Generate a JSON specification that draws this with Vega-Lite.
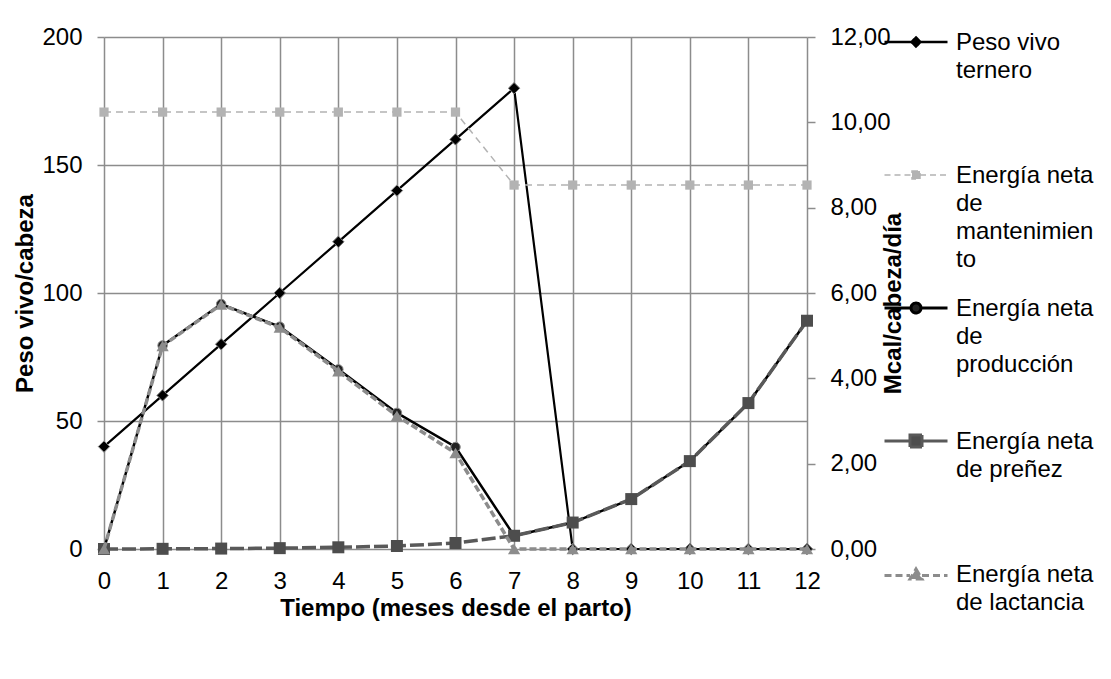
{
  "$schema": "https://vega.github.io/schema/vega-lite/v6.json",
  "width": 703,
  "height": 512,
  "autosize": {"type": "none"},
  "padding": {"left": 104, "top": 37, "right": 304, "bottom": 130},
  "background": "#ffffff",
  "config": {
    "font": "Liberation Sans",
    "view": {"stroke": null},
    "axis": {
      "labelFont": "Liberation Sans",
      "labelFontSize": 24,
      "labelColor": "#000000",
      "titleFont": "Liberation Sans",
      "titleFontSize": 24,
      "titleFontWeight": "bold",
      "titleColor": "#000000",
      "gridColor": "#8c8c8c",
      "gridWidth": 1.5,
      "gridOpacity": 1,
      "tickColor": "#8c8c8c",
      "tickWidth": 1.5,
      "domain": false,
      "labelFlush": false,
      "labelOverlap": false
    }
  },
  "data": {
    "values": [
      {"serie": "Peso vivo ternero", "mes": 0, "valor": 40},
      {"serie": "Peso vivo ternero", "mes": 1, "valor": 60},
      {"serie": "Peso vivo ternero", "mes": 2, "valor": 80},
      {"serie": "Peso vivo ternero", "mes": 3, "valor": 100},
      {"serie": "Peso vivo ternero", "mes": 4, "valor": 120},
      {"serie": "Peso vivo ternero", "mes": 5, "valor": 140},
      {"serie": "Peso vivo ternero", "mes": 6, "valor": 160},
      {"serie": "Peso vivo ternero", "mes": 7, "valor": 180},
      {"serie": "Peso vivo ternero", "mes": 8, "valor": 0},
      {"serie": "Peso vivo ternero", "mes": 9, "valor": 0},
      {"serie": "Peso vivo ternero", "mes": 10, "valor": 0},
      {"serie": "Peso vivo ternero", "mes": 11, "valor": 0},
      {"serie": "Peso vivo ternero", "mes": 12, "valor": 0},
      {"serie": "Energía neta de mantenimiento", "mes": 0, "valor": 10.24},
      {"serie": "Energía neta de mantenimiento", "mes": 1, "valor": 10.24},
      {"serie": "Energía neta de mantenimiento", "mes": 2, "valor": 10.24},
      {"serie": "Energía neta de mantenimiento", "mes": 3, "valor": 10.24},
      {"serie": "Energía neta de mantenimiento", "mes": 4, "valor": 10.24},
      {"serie": "Energía neta de mantenimiento", "mes": 5, "valor": 10.24},
      {"serie": "Energía neta de mantenimiento", "mes": 6, "valor": 10.24},
      {"serie": "Energía neta de mantenimiento", "mes": 7, "valor": 8.53},
      {"serie": "Energía neta de mantenimiento", "mes": 8, "valor": 8.53},
      {"serie": "Energía neta de mantenimiento", "mes": 9, "valor": 8.53},
      {"serie": "Energía neta de mantenimiento", "mes": 10, "valor": 8.53},
      {"serie": "Energía neta de mantenimiento", "mes": 11, "valor": 8.53},
      {"serie": "Energía neta de mantenimiento", "mes": 12, "valor": 8.53},
      {"serie": "Energía neta de producción", "mes": 0, "valor": 0},
      {"serie": "Energía neta de producción", "mes": 1, "valor": 4.77},
      {"serie": "Energía neta de producción", "mes": 2, "valor": 5.74},
      {"serie": "Energía neta de producción", "mes": 3, "valor": 5.21},
      {"serie": "Energía neta de producción", "mes": 4, "valor": 4.21},
      {"serie": "Energía neta de producción", "mes": 5, "valor": 3.19},
      {"serie": "Energía neta de producción", "mes": 6, "valor": 2.39},
      {"serie": "Energía neta de producción", "mes": 7, "valor": 0.31},
      {"serie": "Energía neta de producción", "mes": 8, "valor": 0.62},
      {"serie": "Energía neta de producción", "mes": 9, "valor": 1.17},
      {"serie": "Energía neta de producción", "mes": 10, "valor": 2.06},
      {"serie": "Energía neta de producción", "mes": 11, "valor": 3.42},
      {"serie": "Energía neta de producción", "mes": 12, "valor": 5.35},
      {"serie": "Energía neta de preñez", "mes": 0, "valor": 0},
      {"serie": "Energía neta de preñez", "mes": 1, "valor": 0.004},
      {"serie": "Energía neta de preñez", "mes": 2, "valor": 0.01},
      {"serie": "Energía neta de preñez", "mes": 3, "valor": 0.02},
      {"serie": "Energía neta de preñez", "mes": 4, "valor": 0.04},
      {"serie": "Energía neta de preñez", "mes": 5, "valor": 0.07},
      {"serie": "Energía neta de preñez", "mes": 6, "valor": 0.14},
      {"serie": "Energía neta de preñez", "mes": 7, "valor": 0.31},
      {"serie": "Energía neta de preñez", "mes": 8, "valor": 0.62},
      {"serie": "Energía neta de preñez", "mes": 9, "valor": 1.17},
      {"serie": "Energía neta de preñez", "mes": 10, "valor": 2.06},
      {"serie": "Energía neta de preñez", "mes": 11, "valor": 3.42},
      {"serie": "Energía neta de preñez", "mes": 12, "valor": 5.35},
      {"serie": "Energía neta de lactancia", "mes": 0, "valor": 0},
      {"serie": "Energía neta de lactancia", "mes": 1, "valor": 4.76},
      {"serie": "Energía neta de lactancia", "mes": 2, "valor": 5.73},
      {"serie": "Energía neta de lactancia", "mes": 3, "valor": 5.19},
      {"serie": "Energía neta de lactancia", "mes": 4, "valor": 4.17},
      {"serie": "Energía neta de lactancia", "mes": 5, "valor": 3.12},
      {"serie": "Energía neta de lactancia", "mes": 6, "valor": 2.25},
      {"serie": "Energía neta de lactancia", "mes": 7, "valor": 0},
      {"serie": "Energía neta de lactancia", "mes": 8, "valor": 0},
      {"serie": "Energía neta de lactancia", "mes": 9, "valor": 0},
      {"serie": "Energía neta de lactancia", "mes": 10, "valor": 0},
      {"serie": "Energía neta de lactancia", "mes": 11, "valor": 0},
      {"serie": "Energía neta de lactancia", "mes": 12, "valor": 0}
    ]
  },
  "encoding": {
    "x": {
      "field": "mes",
      "type": "quantitative",
      "scale": {"domain": [0, 12], "nice": false, "zero": false},
      "axis": {
        "values": [0, 1, 2, 3, 4, 5, 6, 7, 8, 9, 10, 11, 12],
        "grid": true,
        "ticks": false,
        "tickSize": 0,
        "labelPadding": 20,
        "title": "Tiempo (meses desde el parto)",
        "titleY": 47
      }
    }
  },
  "layer": [
    {
      "encoding": {
        "y": {
          "field": "valor",
          "type": "quantitative",
          "scale": {"domain": [0, 200], "nice": false},
          "axis": {
            "orient": "left",
            "values": [0, 50, 100, 150, 200],
            "grid": true,
            "tickSize": 7,
            "labelPadding": 15,
            "title": "Peso vivo/cabeza",
            "titlePadding": 4
          }
        }
      },
      "transform": [{"filter": "datum.serie == 'Peso vivo ternero'"}],
      "layer": [
        {
          "mark": {"type": "line", "strokeWidth": 2.2},
          "encoding": {
            "color": {
              "field": "serie",
              "type": "nominal",
              "scale": {
                "domain": ["Peso vivo ternero", "Energía neta de mantenimiento", "Energía neta de producción", "Energía neta de preñez", "Energía neta de lactancia"],
                "range": ["#000000", "#b3b3b3", "#000000", "#595959", "#8c8c8c"]
              },
              "legend": {
                "title": null,
                "orient": "none",
                "legendX": 800,
                "legendY": -7,
                "padding": 0,
                "symbolSize": 100,
                "symbolStrokeWidth": 2,
                "labelFont": "Liberation Sans",
                "labelFontSize": 24,
                "labelColor": "#000000",
                "labelLimit": 400,
                "labelBaseline": "alphabetic",
                "labelOffset": 28,
                "rowPadding": 24,
                "labelExpr": "datum.label == 'Peso vivo ternero' ? ['Peso vivo', 'ternero', '', ''] : datum.label == 'Energía neta de mantenimiento' ? ['Energía neta', 'de', 'mantenimien', 'to'] : datum.label == 'Energía neta de producción' ? ['Energía neta', 'de', 'producción', ''] : datum.label == 'Energía neta de preñez' ? ['Energía neta', 'de preñez', '', ''] : ['Energía neta', 'de lactancia', '', '']",
                "encoding": {
                  "labels": {"dy": {"value": 8}, "lineHeight": {"value": 28}},
                  "symbols": {
                    "shape": {"value": {"expr": "datum.value == 'Peso vivo ternero' ? 'M-6.3,0L-0.9,0M0.9,0L6.3,0M0,-0.9L0.9,0L0,0.9L-0.9,0Z' : datum.value == 'Energía neta de mantenimiento' ? 'M-6.3,0L-0.8,0M0.8,0L6.3,0M-0.8,-0.8L0.8,-0.8L0.8,0.8L-0.8,0.8Z' : datum.value == 'Energía neta de producción' ? 'M-6.3,0L-1.0,0M1.0,0L6.3,0M1.0,0A1.0,1.0 0 1,1 -1.0,0A1.0,1.0 0 1,1 1.0,0Z' : datum.value == 'Energía neta de preñez' ? 'M-6.3,0L-1.2,0M1.2,0L6.3,0M-1.2,-1.2L1.2,-1.2L1.2,1.2L-1.2,1.2Z' : 'M-6.3,0.3L-1.2,0.3M1.2,0.3L6.3,0.3M0,-1.0L1.2,1.0L-1.2,1.0Z'"}},
                    "stroke": {"value": {"expr": "datum.value == 'Peso vivo ternero' ? '#000000' : datum.value == 'Energía neta de mantenimiento' ? '#b3b3b3' : datum.value == 'Energía neta de producción' ? '#000000' : datum.value == 'Energía neta de preñez' ? '#595959' : '#8c8c8c'"}},
                    "fill": {"value": {"expr": "datum.value == 'Peso vivo ternero' ? '#000000' : datum.value == 'Energía neta de mantenimiento' ? '#b3b3b3' : datum.value == 'Energía neta de producción' ? '#222222' : datum.value == 'Energía neta de preñez' ? '#4d4d4d' : '#8c8c8c'"}},
                    "strokeWidth": {"value": {"expr": "datum.value == 'Peso vivo ternero' ? 2.5 : datum.value == 'Energía neta de mantenimiento' ? 1.5 : 3"}},
                    "strokeDash": {"value": {"expr": "datum.value == 'Energía neta de mantenimiento' ? [6, 4] : datum.value == 'Energía neta de lactancia' ? [7, 4] : [1, 0]"}},
                    "opacity": {"value": 1},
                    "fillOpacity": {"value": 1},
                    "strokeOpacity": {"value": 1}
                  }
                }
              }
            }
          }
        },
        {
          "mark": {"type": "point", "shape": "diamond", "filled": true, "size": 130, "fill": "#000000", "stroke": "#808080", "strokeWidth": 1, "opacity": 1}
        }
      ]
    },
    {
      "encoding": {
        "y": {
          "field": "valor",
          "type": "quantitative",
          "scale": {"domain": [0, 12], "nice": false},
          "axis": {
            "orient": "right",
            "values": [0, 2, 4, 6, 8, 10, 12],
            "grid": false,
            "tickSize": 8,
            "labelPadding": 15,
            "labelExpr": "replace(format(datum.value, '.2f'), '.', ',')",
            "title": "Mcal/cabeza/día",
            "titleAngle": 270,
            "titleX": 86,
            "titleY": 266,
            "titleAlign": "center",
            "titleBaseline": "middle"
          }
        }
      },
      "layer": [
        {
          "transform": [{"filter": "datum.serie == 'Energía neta de mantenimiento'"}],
          "mark": {"type": "line", "strokeWidth": 1.5, "strokeDash": [7, 5]},
          "encoding": {"color": {"field": "serie", "type": "nominal"}}
        },
        {
          "transform": [{"filter": "datum.serie == 'Energía neta de mantenimiento'"}],
          "mark": {"type": "point", "shape": "square", "filled": true, "size": 85, "fill": "#b3b3b3", "opacity": 1}
        },
        {
          "transform": [{"filter": "datum.serie == 'Energía neta de producción'"}],
          "mark": {"type": "line", "strokeWidth": 2.5},
          "encoding": {"color": {"field": "serie", "type": "nominal"}}
        },
        {
          "transform": [{"filter": "datum.serie == 'Energía neta de producción'"}],
          "mark": {"type": "point", "shape": "circle", "filled": true, "size": 90, "fill": "#222222", "stroke": "#888888", "strokeWidth": 1, "opacity": 1}
        },
        {
          "transform": [{"filter": "datum.serie == 'Energía neta de preñez'"}],
          "mark": {"type": "line", "strokeWidth": 3.5, "strokeDash": [14, 4]},
          "encoding": {"color": {"field": "serie", "type": "nominal"}}
        },
        {
          "transform": [{"filter": "datum.serie == 'Energía neta de preñez'"}],
          "mark": {"type": "point", "shape": "square", "filled": true, "size": 144, "fill": "#4d4d4d", "opacity": 1}
        },
        {
          "transform": [{"filter": "datum.serie == 'Energía neta de lactancia'"}],
          "mark": {"type": "line", "strokeWidth": 3.5, "strokeDash": [7, 3]},
          "encoding": {"color": {"field": "serie", "type": "nominal"}}
        },
        {
          "transform": [{"filter": "datum.serie == 'Energía neta de lactancia'"}],
          "mark": {"type": "point", "shape": "triangle-up", "filled": true, "size": 150, "fill": "#8c8c8c", "opacity": 1}
        }
      ]
    }
  ],
  "resolve": {"scale": {"y": "independent"}, "axis": {"y": "independent"}}
}
